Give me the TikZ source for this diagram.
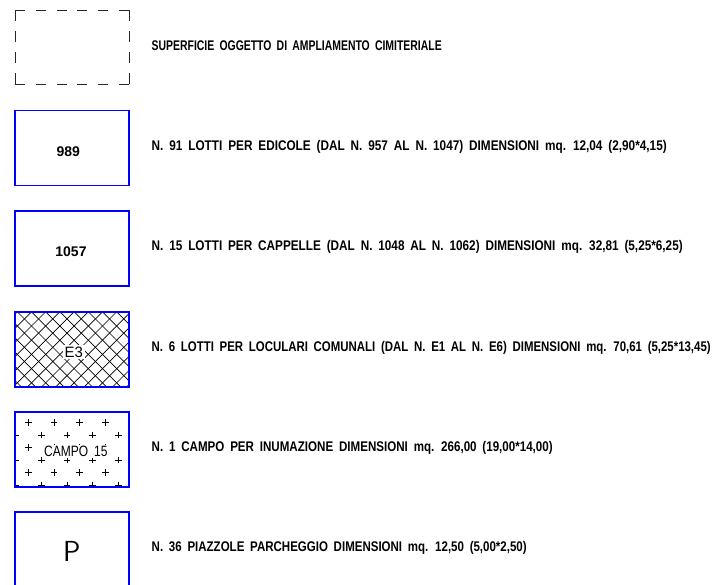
\documentclass[tikz,border=0pt]{standalone}
\usepackage{graphicx}
\usepackage{fontspec}
\setmainfont{Liberation Sans}
\newfontfamily\cadfont{Liberation Sans Bold}
\newfontfamily\labelfont{Liberation Sans}
\newfontfamily\numfont{Liberation Sans Bold}
\newfontfamily\campofont[FakeStretch=0.8]{Liberation Sans}
\newcommand\fitline[2]{\resizebox{#1}{\height}{\spaceskip=7pt\relax #2}}
\begin{document}
\begin{tikzpicture}[x=1pt,y=-1pt,
  legbox/.style={draw=blue, line width=1.6pt, minimum width=114pt, minimum height=75pt, inner sep=0pt},
  desc/.style={anchor=base west, inner sep=0pt, font=\cadfont\fontsize{14}{16}\selectfont},
  lab/.style={anchor=base, inner sep=0pt, font=\labelfont\fontsize{14}{16}\selectfont},
  numlab/.style={anchor=base, inner sep=0pt, font=\numfont\fontsize{14}{16}\selectfont},
  hatchline/.style={black, line width=0.7pt},
  plusmark/.style={black, line width=0.8pt},
  dashside/.style={black!85, line width=0.9pt}]
\useasboundingbox (0,0) rectangle (722,585);

% 1: dashed area
\coordinate (d1) at (15,10);
\coordinate (d2) at (129,10);
\coordinate (d3) at (129,84);
\coordinate (d4) at (15,84);
\draw[dashside, dash pattern=on 10pt off 10.8pt] (d1) -- (d2);
\draw[dashside, dash pattern=on 10pt off 10.8pt] (d4) -- (d3);
\draw[dashside, dash pattern=on 11pt off 10pt] (d1) -- (d4);
\draw[dashside, dash pattern=on 11pt off 10pt] (d2) -- (d3);
\node[desc] (t1) at (151.5,50.5) {\fitline{290pt}{SUPERFICIE OGGETTO DI AMPLIAMENTO CIMITERIALE}};

% 2: edicole
\node[legbox] (b2) at (72,148) {};
\node[numlab] (l2) at (68.3,156.7) {989};
\node[desc] (t2) at (151.5,151) {\fitline{515pt}{N. 91 LOTTI PER EDICOLE (DAL N. 957 AL N. 1047) DIMENSIONI mq. 12,04 (2,90*4,15)}};

% 3: cappelle
\node[legbox] (b3) at (72,248.5) {};
\node[numlab] (l3) at (71,256.7) {1057};
\node[desc] (t3) at (151.5,251) {\fitline{531pt}{N. 15 LOTTI PER CAPPELLE (DAL N. 1048 AL N. 1062) DIMENSIONI mq. 32,81 (5,25*6,25)}};

% 4: loculari comunali (cross hatch)
\node[legbox] (b4) at (72,349.3) {};
\begin{scope}
  \clip (b4.south west) rectangle (b4.north east);
  \foreach \i in {-7,...,16} {
    \draw[hatchline] (17.3+14.2*\i,311.8) -- ++(80,80);
    \draw[hatchline] (17.3+14.2*\i,311.8) -- ++(-80,80);
  }
\end{scope}
\node[legbox] at (b4.center) {};
\node[lab, fill=white, inner sep=1.8pt, font=\labelfont\fontsize{15}{17}\selectfont] (l4) at (73.7,357.3) {E3};
\node[desc] (t4) at (151.5,351) {\fitline{559pt}{N. 6 LOTTI PER LOCULARI COMUNALI (DAL N. E1 AL N. E6) DIMENSIONI mq. 70,61 (5,25*13,45)}};

% 5: campo inumazione (plus pattern)
\node[legbox] (b5) at (72,449.5) {};
\begin{scope}
  \clip (b5.south west) rectangle (b5.north east);
  \foreach \r in {0,2,4} {
    \foreach \c in {0,...,3} {
      \draw[plusmark] (28.3+25.7*\c-3.4,422.5+12.5*\r) -- ++(6.8,0)
                      (28.3+25.7*\c,422.5+12.5*\r-3.4) -- ++(0,6.8);
    }
  }
  \foreach \r in {1,3,5} {
    \foreach \c in {0,...,4} {
      \draw[plusmark] (15.6+25.7*\c-3.4,422.5+12.5*\r) -- ++(6.8,0)
                      (15.6+25.7*\c,422.5+12.5*\r-3.4) -- ++(0,6.8);
    }
  }
\end{scope}
\node[legbox] at (b5.center) {};
\node[lab, fill=white, inner sep=1.5pt, font=\campofont\fontsize{15}{17}\selectfont] (l5) at (75.8,456.7) {CAMPO\hspace{6pt}15};
\node[desc] (t5) at (151.5,451) {\fitline{401pt}{N. 1 CAMPO PER INUMAZIONE DIMENSIONI mq. 266,00 (19,00*14,00)}};

% 6: parcheggio
\node[legbox] (b6) at (72,549.5) {};
\node[lab, font=\sffamily\fontsize{29}{31}\selectfont] (l6) at (71.7,561.7) {P};
\node[desc] (t6) at (151.5,551) {\fitline{375pt}{N. 36 PIAZZOLE PARCHEGGIO DIMENSIONI mq. 12,50 (5,00*2,50)}};
\end{tikzpicture}
\end{document}
